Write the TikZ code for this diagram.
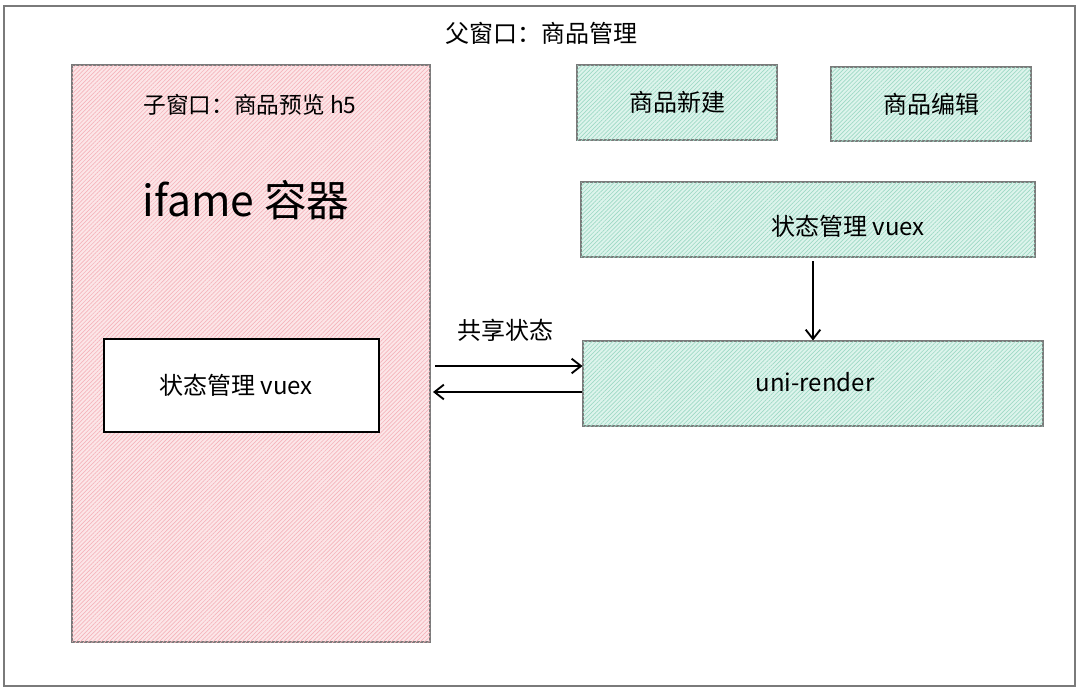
\documentclass[tikz,border=0pt]{standalone}
\usepackage{fontspec}
\setmainfont{Noto Sans CJK SC}
\usetikzlibrary{fit,patterns.meta,arrows.meta}
\definecolor{pinkfill}{HTML}{FCE6E8}
\definecolor{pinkline}{HTML}{F5B4BB}
\definecolor{greenfill}{HTML}{DDF4EC}
\definecolor{greenline}{HTML}{9ED9C5}
\definecolor{frame}{HTML}{7A7A7A}
\tikzset{
  pinkbox/.style={draw=frame, line width=0.8pt, fill=pinkfill, inner sep=0pt,
    postaction={pattern={Lines[angle=45,distance=2.2pt,line width=0.5pt]}, pattern color=pinkline}},
  greenbox/.style={draw=frame, line width=0.8pt, fill=greenfill, inner sep=0pt,
    postaction={pattern={Lines[angle=45,distance=2.2pt,line width=0.5pt]}, pattern color=greenline}},
  whitebox/.style={draw=black, line width=1.6pt, fill=white, inner sep=0pt},
  lbl/.style={font=\fontsize{18}{21}\selectfont, text=black, inner sep=0pt},
  conn/.style={line width=1.4pt, -{Straight Barb[length=7pt,width=11pt,line width=1.4pt]}}
}
\begin{document}
\begin{tikzpicture}[x=0.75pt,y=-0.75pt]
\useasboundingbox (0,0) rectangle (1080,693);
\fill[white] (0,0) rectangle (1080,693);
\node[draw=frame, line width=0.8pt, inner sep=0pt, fit={(4,6)(1075,686)}] (outer) {};
\node[lbl] (title) at (541,33) {父窗口：商品管理};

\node[pinkbox, fit={(72,65)(430,642)}] (child) {};
\node[lbl, font=\fontsize{17}{20}\selectfont] (childlbl) at (250,105) {子窗口：商品预览 h5};
\node[lbl, font=\fontsize{32}{36}\selectfont] (ifame) at (246,200) {ifame 容器};

\node[whitebox, fit={(104,339)(379,432)}] (vuexw) {};
\node[lbl] at (236,385) {状态管理 vuex};

\node[greenbox, fit={(577,65)(777,140)}] (new) {};
\node[lbl] at (new.center) {商品新建};
\node[greenbox, fit={(831,67)(1031,141)}] (edit) {};
\node[lbl] at (edit.center) {商品编辑};

\node[greenbox, fit={(581,182)(1035,257)}] (vuexg) {};
\node[lbl] at (848,226) {状态管理 vuex};

\node[greenbox, fit={(583,341)(1043,426)}] (uni) {};
\node[lbl] at (815,382) {uni-render};

\coordinate (a1) at (435,366);
\coordinate (a2) at (433,392);
\coordinate (d1) at (813,261);
\draw[conn] (a1) -- (uni.west |- a1);
\draw[conn] (uni.west |- a2) -- (a2);
\draw[conn] (d1) -- (d1 |- uni.north);
\node[lbl] (share) at (505,330) {共享状态};
\end{tikzpicture}
\end{document}
